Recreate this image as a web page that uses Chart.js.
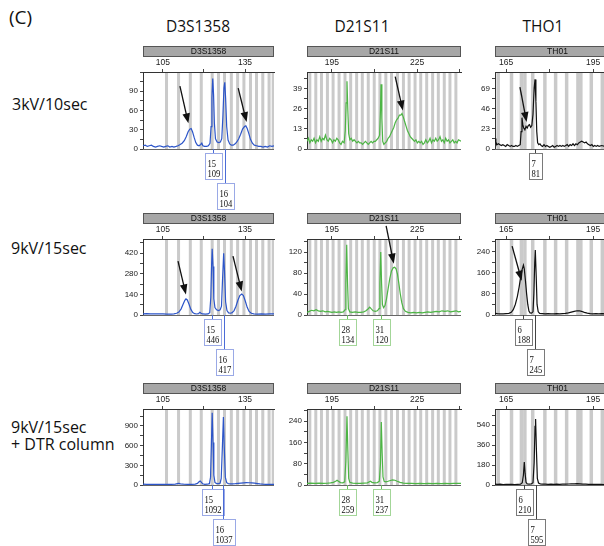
<!DOCTYPE html>
<html>
<head>
<meta charset="utf-8">
<script src="https://cdn.jsdelivr.net/npm/chart.js@4.4.1/dist/chart.umd.min.js"></script>
<style>
  html, body { margin: 0; padding: 0; background: #fff; overflow: hidden; }
  #fig { position: relative; width: 604px; height: 546px; overflow: hidden; }
  .lbl { position: absolute; font-family: "Open Sans", sans-serif; color: #111; white-space: nowrap; }
  .ttl { transform: translateX(-50%); }
  canvas { position: absolute; }
</style>
</head>
<body>
<div id="fig">
  <div class="lbl" style="left:9px;top:8px;font-size:19px;line-height:19px">(C)</div>
  <div class="lbl ttl" style="left:198px;top:19px;font-size:15.5px;line-height:15.5px">D3S1358</div>
  <div class="lbl ttl" style="left:362px;top:19px;font-size:15.5px;line-height:15.5px">D21S11</div>
  <div class="lbl ttl" style="left:543px;top:19px;font-size:15.5px;line-height:15.5px">THO1</div>
  <div class="lbl" style="left:12px;top:96px;font-size:16px;line-height:16px">3kV/10sec</div>
  <div class="lbl" style="left:11px;top:240px;font-size:16px;line-height:16px">9kV/15sec</div>
  <div class="lbl" style="left:11px;top:419px;font-size:16px;line-height:16px">9kV/15sec</div>
  <div class="lbl" style="left:11px;top:436px;font-size:16px;line-height:16px">+ DTR column</div>
</div>
<script>
// --- data ---
const LOCI = ["D3S1358", "D21S11", "TH01"];

const X_RANGE = [[97.7, 145.6], [186.2, 240.5], [161.2, 204.3]];
const X_TICKS = [[105, 120, 135], [195, 210, 225, 240], [165, 180, 195]];
const X_LABELLED = [[105, 135], [195, 225], [165, 195]];

// row by row: D3S1358, D21S11, TH01
const Y_LABELS = [
  [0, 30, 60, 90], [0, 13, 26, 39], [0, 23, 46, 69],
  [0, 140, 280, 420], [0, 40, 80, 120], [0, 80, 160, 240],
  [0, 300, 600, 900], [0, 80, 160, 240], [0, 180, 360, 540],
];
const Y_MAX = [120, 50, 88.5, 516, 145, 288, 1159, 286, 686];

const BINS_D3 = [106.3, 110.7, 115, 119, 123, 125.3, 127.5, 130, 132.3, 134.6, 137, 139.2, 141.5, 143.8, 145.3];
const BINS_D21 = [187.2, 189.3, 191.3, 193.4, 195.4, 197.5, 199.6, 201.6, 203.7, 205.7, 207.8, 209.9, 211.9,
  214, 216, 218.1, 220.2, 222.2, 224.3, 226.3, 228.4, 230.5, 232.5, 234.6, 236.6, 238.7];
const BINS_TH = [162.3, 166.9, 170.3, 171.5, 174.2, 178.4, 182.1, 185.9, 189.8, 190.8, 194.4, 198.2, 202];

// 3kV / 10 sec
const d3_3kv = [[97.7,5],[98.5,6],[99.3,4],[100,5],[100.8,6],[101.5,4],[102.3,3],[103,4],[103.8,5],[104.5,4],
  [105.3,3],[106,4],[106.8,5],[107.5,3],[108.3,4],[109,3],[109.8,4],[110.5,5],[111.3,7],[112,9],[112.8,13],
  [113.5,19],[114.2,27],[114.8,31],[115.3,32],[115.8,27],[116.4,18],[117,10],[117.6,6],[118.2,5],[118.8,7],
  [119.2,9],[119.6,5],[120.2,4],[121,4],[121.6,5],[122.2,9],[122.6,35],[122.9,80],[123.2,110],[123.5,85],
  [123.8,40],[124.2,16],[124.8,11],[125.4,10],[126,11],[126.5,16],[126.9,50],[127.3,95],[127.6,104],[127.9,80],
  [128.3,35],[128.8,14],[129.4,8],[130,6],[130.7,6],[131.4,8],[132,11],[132.7,16],[133.4,23],[134.1,31],
  [134.8,35],[135.3,36],[135.8,32],[136.4,24],[137,15],[137.7,9],[138.4,6],[139.2,5],[140,4],[140.8,4],
  [141.6,3],[142.4,4],[143.2,3],[144,5],[144.8,4],[145.6,5]];
const d21_3kv = [[186.2,5],[186.7,7],[187.2,4],[187.7,6],[188.2,5],[188.7,7],[189.2,4],[189.7,6],[190.2,5],
  [190.7,8],[191.2,5],[191.7,7],[192.2,6],[192.7,9],[193.2,6],[193.7,5],[194.2,7],[194.7,6],[195.2,4],[195.7,6],
  [196.2,5],[196.7,7],[197.2,6],[197.7,4],[198.2,3],[198.7,5],[199.3,4],[199.7,12],[200,30],[200.3,44],
  [200.6,25],[200.9,10],[201.3,6],[201.8,7],[202.3,5],[202.8,6],[203.3,5],[203.8,4],[204.3,5],[204.8,4],
  [205.3,4],[205.8,3],[206.3,4],[206.8,5],[207.3,4],[207.8,3],[208.3,4],[208.8,5],[209.3,4],[209.8,5],
  [210.3,5],[210.8,6],[211.3,7],[211.8,9],[212.1,25],[212.3,42],[212.6,20],[212.9,5],[213.3,3],[213.8,4],
  [214.3,5],[214.8,7],[215.3,8],[215.8,10],[216.3,12],[216.8,14],[217.3,17],[217.8,19],[218.3,20],[218.8,22],
  [219.3,22],[219.7,23],[220.1,21],[220.6,18],[221.1,15],[221.6,12],[222.1,10],[222.6,8],[223.1,7],[223.6,6],
  [224.1,5],[224.6,6],[225.1,4],[225.6,5],[226.1,4],[226.6,5],[227.1,3],[227.6,4],[228.1,6],[228.6,4],
  [229.1,5],[229.6,7],[230.1,4],[230.6,6],[231.1,5],[231.6,7],[232.1,5],[232.6,6],[233.1,8],[233.6,5],
  [234.1,6],[234.6,4],[235.1,7],[235.6,5],[236.1,6],[236.6,4],[237.1,5],[237.6,6],[238.1,4],[238.6,5],
  [239.1,4],[239.6,6],[240.5,5]];
const th_3kv = [[161.2,12],[161.5,8],[161.9,5],[162.4,6],[162.9,5],[163.4,4],[163.9,5],[164.4,4],[164.9,3],
  [165.4,5],[165.9,4],[166.4,3],[166.9,4],[167.4,3],[167.9,3],[168.4,4],[168.9,3],[169.4,4],[169.9,5],
  [170.2,20],[170.5,36],[170.8,28],[171.1,24],[171.5,22],[171.9,26],[172.3,24],[172.7,27],[173.1,28],
  [173.5,25],[173.9,27],[174.3,40],[174.7,70],[175,80],[175.3,55],[175.6,20],[175.9,7],[176.3,5],[176.7,6],
  [177.1,4],[177.6,3],[178.1,5],[178.6,3],[179.1,4],[179.6,3],[180.1,2],[180.6,3],[181.1,4],[181.6,2],
  [182.1,3],[182.6,4],[183.1,3],[183.6,4],[184.1,3],[184.6,4],[185.1,3],[185.6,4],[186.1,5],[186.6,3],
  [187.1,5],[187.6,4],[188.1,6],[188.6,4],[189.1,6],[189.6,5],[190.1,7],[190.6,8],[191.1,9],[191.6,8],
  [192.1,7],[192.6,8],[193.1,6],[193.6,5],[194.1,4],[194.6,5],[195.1,3],[195.6,4],[196.1,3],[196.6,4],
  [197.1,3],[198,4],[199,3],[200,4],[201,3],[202,4],[203,3],[204.3,4]];

// 9kV / 15 sec
const d3_9kv = [[97.7,8],[99,9],[100.5,8],[102,7],[103.5,8],[105,7],[106.5,6],[108,6],[109,8],[110,12],
  [110.8,20],[111.6,40],[112.4,75],[113,100],[113.4,110],[113.9,102],[114.5,75],[115.2,38],[115.9,16],
  [116.6,9],[117.3,7],[118,9],[118.5,18],[118.9,12],[119.5,7],[120.5,6],[121.5,7],[122.1,15],[122.5,120],
  [122.8,350],[123,450],[123.3,330],[123.6,110],[124,50],[124.6,35],[125.3,30],[125.9,35],[126.4,60],
  [126.8,250],[127.2,419],[127.5,300],[127.9,90],[128.4,30],[129,14],[129.7,12],[130.3,16],[131,30],
  [131.7,60],[132.4,100],[133.1,132],[133.8,143],[134.4,132],[135.1,95],[135.8,52],[136.5,24],[137.3,12],
  [138.2,8],[139.5,6],[141,7],[142.5,6],[144,8],[145.6,7]];
const d21_9kv = [[186.2,5],[187,7],[187.8,9],[188.6,8],[189.4,10],[190.2,8],[191,7],[191.8,8],[192.6,6],
  [193.4,7],[194.2,6],[195,5],[195.8,6],[196.6,5],[197.4,6],[198.2,5],[199,6],[199.6,10],[199.9,60],
  [200.2,134],[200.5,60],[200.8,12],[201.3,6],[202.2,5],[203.2,6],[204.2,5],[205.2,5],[206.2,6],[207,8],
  [207.8,12],[208.3,15],[208.8,12],[209.5,8],[210.3,7],[211,8],[211.6,12],[211.9,60],[212.2,120],[212.5,60],
  [212.8,20],[213.2,14],[213.7,18],[214.2,30],[214.8,50],[215.4,70],[216,84],[216.6,90],[217.1,91],
  [217.6,88],[218.1,78],[218.6,60],[219.1,40],[219.6,24],[220.2,12],[220.9,7],[221.8,5],[222.8,4],[223.8,5],
  [224.8,4],[225.8,5],[226.8,4],[227.8,5],[228.8,6],[229.8,5],[230.8,6],[231.8,7],[232.8,6],[233.8,8],
  [234.8,7],[235.8,8],[236.8,6],[237.8,7],[238.8,8],[239.6,6],[240.5,7]];
const th_9kv = [[161.2,6],[162,5],[163,4],[164,4],[165,5],[166,6],[166.8,10],[167.5,20],[168.2,40],[168.9,70],
  [169.5,105],[170,140],[170.5,170],[171,189],[171.3,175],[171.7,130],[172.1,80],[172.5,40],[172.9,15],
  [173.3,8],[173.8,7],[174.3,12],[174.6,80],[174.9,200],[175.1,246],[175.4,150],[175.7,40],[176.1,12],
  [176.6,6],[177.5,5],[178.5,4],[179.5,5],[180.5,4],[181.5,4],[182.5,5],[183.5,4],[184.5,5],[185.5,6],
  [186.5,8],[187.5,11],[188.5,14],[189.5,16],[190.3,16],[191,14],[192,10],[193,7],[194,5],[195,4],[196,5],
  [197,4],[198,5],[200,4],[202,5],[204.3,4]];

// 9kV / 15 sec + DTR column
const d3_dtr = [[97.7,12],[99,10],[100.5,11],[102,9],[103.5,10],[105,9],[106.5,10],[108,11],[109.5,14],
  [110.3,22],[110.8,26],[111.4,18],[112.5,12],[114,10],[115.5,11],[116.8,14],[117.6,25],[118.2,50],
  [118.6,62],[119,45],[119.5,18],[120.3,11],[121.2,12],[122,20],[122.4,120],[122.7,600],[123,1100],
  [123.3,650],[123.6,150],[124,40],[124.6,22],[125.3,20],[125.9,28],[126.3,100],[126.7,550],[127.1,1035],
  [127.4,600],[127.8,120],[128.3,35],[128.9,22],[129.6,18],[130.5,17],[131.5,20],[132.5,25],[133.5,30],
  [134.5,33],[135.5,35],[136.5,34],[137.5,32],[138.5,28],[139.5,22],[140.5,16],[141.5,12],[142.5,10],
  [143.5,11],[144.5,9],[145.6,10]];
const d21_dtr = [[186.2,6],[187.5,7],[189,6],[190.5,7],[192,6],[193.5,7],[194.5,8],[195.5,10],[196.3,14],
  [196.8,18],[197.3,14],[198,9],[198.8,8],[199.5,12],[199.9,90],[200.3,259],[200.6,130],[200.9,25],
  [201.3,10],[202.3,7],[203.5,6],[205,6],[206.3,7],[207.5,8],[208.2,12],[208.6,14],[209.1,10],[210,8],
  [211,9],[211.7,14],[212.1,80],[212.4,237],[212.7,120],[213,30],[213.4,14],[214,12],[214.8,14],[215.6,17],
  [216.4,19],[217.2,18],[218,14],[219,10],[220.2,7],[221.5,6],[223,6],[224.5,5],[226,6],[227.5,5],[229,6],
  [230.5,5],[232,6],[233.5,5],[235,6],[236.5,5],[238,6],[240.5,6]];
const th_dtr = [[161.2,8],[162,5],[163,7],[164,4],[165,6],[166,5],[167,6],[168,4],[169,6],[170,8],[170.6,20],
  [171,90],[171.3,207],[171.6,100],[171.9,25],[172.3,10],[173,8],[173.7,9],[174.3,20],[174.7,200],[175,530],
  [175.2,595],[175.5,300],[175.8,60],[176.2,18],[176.8,10],[177.5,8],[178.5,7],[179.5,6],[180.5,7],
  [181.5,6],[182.5,7],[183.5,6],[184.5,7],[185.5,8],[186.5,9],[187.5,10],[188.5,11],[189.5,12],[190.5,10],
  [191.5,8],[192.5,7],[193.5,6],[194.5,5],[196,6],[197.5,5],[199,4],[201,5],[204.3,4]];

const TRACES = [d3_3kv, d21_3kv, th_3kv, d3_9kv, d21_9kv, th_9kv, d3_dtr, d21_dtr, th_dtr];

// allele calls: [allele, height, size in bp, row of the box]
const ALLELES = [
  [["15", "109", 123.2, 0], ["16", "104", 127.6, 1]],
  [],
  [["7", "81", 175, 0]],
  [["15", "446", 123, 0], ["16", "417", 127.2, 1]],
  [["28", "134", 200.2, 0], ["31", "120", 212.2, 0]],
  [["6", "188", 171, 0], ["7", "245", 175.1, 1]],
  [["15", "1092", 123, 0], ["16", "1037", 127.1, 1]],
  [["28", "259", 200.3, 0], ["31", "237", 212.4, 0]],
  [["6", "210", 171.3, 0], ["7", "595", 175.2, 1]],
];

// arrows: [from bp, from height, to bp, to height]
const ARROWS = [
  [[111.2, 98, 114.3, 40], [132.5, 95, 135.6, 42]],
  [[217.3, 47, 220, 25]],
  [[169.8, 71, 172.1, 31]],
  [[110.5, 366, 113.4, 140], [130.6, 400, 133.8, 160]],
  [[214.1, 170, 216.8, 98]],
  [[167.1, 261, 170.4, 130]],
  [], [], [],
];

// --- layout and style ---
const COL_LEFT = [143, 307, 495];
const COL_WIDTH = [131, 154, 125];
const ROW_TOP = [72, 239, 409];
const ROW_HEIGHT = [77, 76, 76];
const PAD = { left: 30, top: 30, right: 2, bottom: 70 };
const TRACE_COLOR = ["#2c55c9", "#4db545", "#111111"];
const BOX_COLOR = ["#9aa9e6", "#a3d698", "#7a7a7a"];
const STEM_COLOR = ["#4b6cd8", "#6cc061", "#444444"];
const BIN_WIDTH = [1.1, 1.05, 1.2];
const BINS = [BINS_D3, BINS_D21, BINS_TH];

Chart.defaults.font.family = "'Liberation Sans', Arial, sans-serif";

const binsPlugin = {
  id: "bins",
  beforeDraw(chart, args, opts) {
    const { ctx, chartArea: a, scales } = chart;
    const x = scales.x;
    ctx.save();
    ctx.beginPath();
    ctx.rect(a.left, a.top, a.right - a.left, a.bottom - a.top);
    ctx.clip();
    ctx.fillStyle = "#cacaca";
    opts.values.forEach((b) => {
      const l = x.getPixelForValue(b - opts.width / 2);
      const r = x.getPixelForValue(b + opts.width / 2);
      ctx.fillRect(l, a.top, r - l, a.bottom - a.top);
    });
    ctx.restore();
  },
};

function drawArrow(ctx, x0, y0, x1, y1) {
  const ang = Math.atan2(y1 - y0, x1 - x0);
  const c = Math.cos(ang), s = Math.sin(ang);
  ctx.strokeStyle = "#111";
  ctx.fillStyle = "#111";
  ctx.lineWidth = 1.3;
  ctx.beginPath();
  ctx.moveTo(x0, y0);
  ctx.lineTo(x1 - c * 8, y1 - s * 8);
  ctx.stroke();
  ctx.beginPath();
  ctx.moveTo(x1, y1);
  ctx.lineTo(x1 - c * 10 + s * 3.8, y1 - s * 10 - c * 3.8);
  ctx.lineTo(x1 - c * 10 - s * 3.8, y1 - s * 10 + c * 3.8);
  ctx.closePath();
  ctx.fill();
}

const overlayPlugin = {
  id: "overlay",
  afterDraw(chart, args, opts) {
    const { ctx, chartArea: a, scales } = chart;
    const x = scales.x, y = scales.y;
    ctx.save();

    // baseline
    ctx.strokeStyle = "#666";
    ctx.lineWidth = 1;
    ctx.beginPath();
    ctx.moveTo(a.left, a.bottom + 0.5);
    ctx.lineTo(a.right, a.bottom + 0.5);
    ctx.stroke();

    // locus header
    const hy = a.top - 26;
    ctx.fillStyle = "#a7a7a7";
    ctx.fillRect(a.left, hy, a.right - a.left, 11);
    ctx.strokeStyle = "#555";
    ctx.strokeRect(a.left + 0.5, hy + 0.5, a.right - a.left - 1, 10);
    ctx.fillStyle = "#111";
    ctx.font = "8.5px 'Liberation Sans', Arial, sans-serif";
    ctx.textAlign = "center";
    ctx.textBaseline = "middle";
    ctx.fillText(opts.locus, (a.left + a.right) / 2, hy + 6);

    // arrows
    opts.arrows.forEach((ar) => {
      drawArrow(ctx, x.getPixelForValue(ar[0]), y.getPixelForValue(ar[1]),
        x.getPixelForValue(ar[2]), y.getPixelForValue(ar[3]));
    });

    // allele boxes
    ctx.font = "11px 'Liberation Serif', 'Times New Roman', serif";
    ctx.textAlign = "left";
    ctx.textBaseline = "alphabetic";
    opts.alleles.forEach((al) => {
      const px = Math.round(x.getPixelForValue(al[2])) + 0.5;
      const w = Math.round(Math.max(ctx.measureText(al[0]).width, ctx.measureText(al[1]).width) * 0.75 + 5);
      const top = Math.round(a.bottom) + 4 + al[3] * 30;
      const left = Math.round(px - w / 2);
      ctx.strokeStyle = opts.stem;
      ctx.lineWidth = 1;
      ctx.beginPath();
      ctx.moveTo(px, a.bottom);
      ctx.lineTo(px, top);
      ctx.stroke();
      ctx.fillStyle = "#fff";
      ctx.fillRect(left, top, w, 26);
      ctx.strokeStyle = opts.box;
      ctx.strokeRect(left + 0.5, top + 0.5, w, 26);
      ctx.fillStyle = "#111";
      ctx.save();
      ctx.translate(left + 2.5, top);
      ctx.scale(0.78, 1);
      ctx.fillText(al[0], 0, 13.5);
      ctx.fillText(al[1], 0, 24);
      ctx.restore();
    });
    ctx.restore();
  },
};

function yTicksFor(labels, max) {
  const step = (labels[1] - labels[0]) / 2;
  const ticks = [];
  for (let v = 0; v <= max + 1e-6; v += step) ticks.push({ value: v });
  return ticks;
}

function makePanel(row, col) {
  const i = row * 3 + col;
  const W = COL_WIDTH[col] + PAD.left + PAD.right;
  const H = ROW_HEIGHT[row] + PAD.top + PAD.bottom;
  const canvas = document.createElement("canvas");
  canvas.width = W;
  canvas.height = H;
  canvas.style.width = W + "px";
  canvas.style.height = H + "px";
  canvas.style.left = COL_LEFT[col] - PAD.left + "px";
  canvas.style.top = ROW_TOP[row] - PAD.top + "px";
  document.getElementById("fig").appendChild(canvas);

  const labels = Y_LABELS[i];
  new Chart(canvas, {
    type: "line",
    data: {
      datasets: [{
        data: TRACES[i].map((p) => ({ x: p[0], y: p[1] })),
        borderColor: TRACE_COLOR[col],
        borderWidth: 1.2,
        pointRadius: 0,
        tension: 0,
      }],
    },
    options: {
      responsive: false,
      animation: false,
      devicePixelRatio: 1,
      layout: { padding: { left: PAD.left - 26, top: PAD.top - 14, right: PAD.right, bottom: PAD.bottom } },
      scales: {
        x: {
          type: "linear",
          position: "top",
          min: X_RANGE[col][0],
          max: X_RANGE[col][1],
          afterBuildTicks: (s) => { s.ticks = X_TICKS[col].map((v) => ({ value: v })); },
          afterFit: (s) => { s.height = 14; s.paddingLeft = 0; s.paddingRight = 0; },
          ticks: {
            autoSkip: false,
            maxRotation: 0,
            padding: 1,
            color: "#222",
            font: { size: 8.5 },
            callback: (v) => (X_LABELLED[col].includes(v) ? String(v) : ""),
          },
          grid: { drawOnChartArea: false, tickLength: 3, color: "#444" },
          border: { color: "#333", width: 1 },
        },
        y: {
          min: 0,
          max: Y_MAX[i],
          afterBuildTicks: (s) => { s.ticks = yTicksFor(labels, Y_MAX[i]); },
          afterFit: (s) => { s.width = 26; s.paddingTop = 0; s.paddingBottom = 0; },
          ticks: {
            autoSkip: false,
            padding: 2,
            color: "#222",
            font: { size: 8 },
            callback: (v) => (labels.includes(v) ? String(v) : ""),
          },
          grid: { drawOnChartArea: false, tickLength: 3, color: "#444" },
          border: { color: "#333", width: 1 },
        },
      },
      plugins: {
        legend: { display: false },
        tooltip: { enabled: false },
        bins: { values: BINS[col], width: BIN_WIDTH[col] },
        overlay: {
          locus: LOCI[col],
          arrows: ARROWS[i],
          alleles: ALLELES[i],
          box: BOX_COLOR[col],
          stem: STEM_COLOR[col],
        },
      },
    },
    plugins: [binsPlugin, overlayPlugin],
  });
}

function init() {
  for (let r = 0; r < 3; r++) {
    for (let c = 0; c < 3; c++) {
      makePanel(r, c);
    }
  }
}

document.addEventListener("DOMContentLoaded", init);
</script>
</body>
</html>
